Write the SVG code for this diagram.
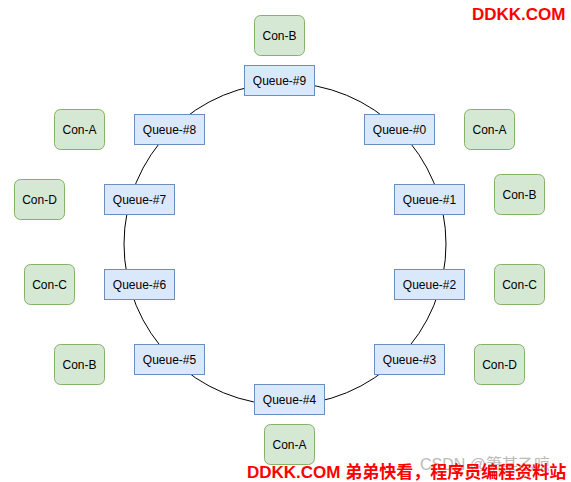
<svg xmlns="http://www.w3.org/2000/svg" width="571" height="482" viewBox="0 0 571 482">
<style>
.q{fill:#dae8fc;stroke:#6c8ebf;stroke-width:1}
.c{fill:#d5e8d4;stroke:#82b366;stroke-width:1}
text{font-family:"Liberation Sans",Arial,sans-serif;font-size:12px;fill:#000;text-anchor:middle;dominant-baseline:central}
.wm{font-family:"Liberation Sans","Noto Sans CJK SC",sans-serif;font-size:17px;font-weight:bold;fill:#ff0000;text-anchor:start;dominant-baseline:auto}
.gw{font-family:"Liberation Sans","Noto Sans CJK SC",sans-serif;font-size:16px;fill:#bbbbbb;text-anchor:start;dominant-baseline:auto}
</style>
<rect width="571" height="482" fill="#ffffff"/>
<g id="connectors">
<circle cx="285" cy="244" r="161" fill="none" stroke="#000" stroke-width="1"/>
</g>
<g id="q9"><rect class="q" x="244.5" y="65.5" width="70" height="30"/><text x="279.5" y="80.5">Queue-#9</text></g>
<g id="q0"><rect class="q" x="364.5" y="114.5" width="70" height="30"/><text x="399.5" y="129.5">Queue-#0</text></g>
<g id="q1"><rect class="q" x="394.5" y="184.5" width="70" height="30"/><text x="429.5" y="199.5">Queue-#1</text></g>
<g id="q2"><rect class="q" x="394.5" y="269.5" width="70" height="30"/><text x="429.5" y="284.5">Queue-#2</text></g>
<g id="q3"><rect class="q" x="374.5" y="344.5" width="70" height="30"/><text x="409.5" y="359.5">Queue-#3</text></g>
<g id="q4"><rect class="q" x="254.5" y="384.5" width="70" height="30"/><text x="289.5" y="399.5">Queue-#4</text></g>
<g id="q5"><rect class="q" x="134.5" y="344.5" width="70" height="30"/><text x="169.5" y="359.5">Queue-#5</text></g>
<g id="q6"><rect class="q" x="104.5" y="269.5" width="70" height="30"/><text x="139.5" y="284.5">Queue-#6</text></g>
<g id="q7"><rect class="q" x="104.5" y="184.5" width="70" height="30"/><text x="139.5" y="199.5">Queue-#7</text></g>
<g id="q8"><rect class="q" x="134.5" y="114.5" width="70" height="30"/><text x="169.5" y="129.5">Queue-#8</text></g>
<g id="conB-top"><rect class="c" x="254.5" y="15.5" width="50" height="40" rx="6"/><text x="279.5" y="35.5">Con-B</text></g>
<g id="conA-tr"><rect class="c" x="464.5" y="109.5" width="50" height="40" rx="6"/><text x="489.5" y="129.5">Con-A</text></g>
<g id="conB-r"><rect class="c" x="494.5" y="174.5" width="50" height="40" rx="6"/><text x="519.5" y="194.5">Con-B</text></g>
<g id="conC-r"><rect class="c" x="494.5" y="264.5" width="50" height="40" rx="6"/><text x="519.5" y="284.5">Con-C</text></g>
<g id="conD-br"><rect class="c" x="474.5" y="344.5" width="50" height="40" rx="6"/><text x="499.5" y="364.5">Con-D</text></g>
<g id="conA-b"><rect class="c" x="264.5" y="424.5" width="50" height="40" rx="6"/><text x="289.5" y="444.5">Con-A</text></g>
<g id="conB-bl"><rect class="c" x="54.5" y="344.5" width="50" height="40" rx="6"/><text x="79.5" y="364.5">Con-B</text></g>
<g id="conC-l"><rect class="c" x="24.5" y="264.5" width="50" height="40" rx="6"/><text x="49.5" y="284.5">Con-C</text></g>
<g id="conD-l"><rect class="c" x="14.5" y="179.5" width="50" height="40" rx="6"/><text x="39.5" y="199.5">Con-D</text></g>
<g id="conA-tl"><rect class="c" x="54.5" y="109.5" width="50" height="40" rx="6"/><text x="79.5" y="129.5">Con-A</text></g>
<text class="gw" x="420" y="470">CSDN @箫某乙晾</text>
<text class="wm" x="472" y="20">DDKK.COM</text>
<text class="wm" x="247" y="478">DDKK.COM 弟弟快看，程序员编程资料站</text>
</svg>
